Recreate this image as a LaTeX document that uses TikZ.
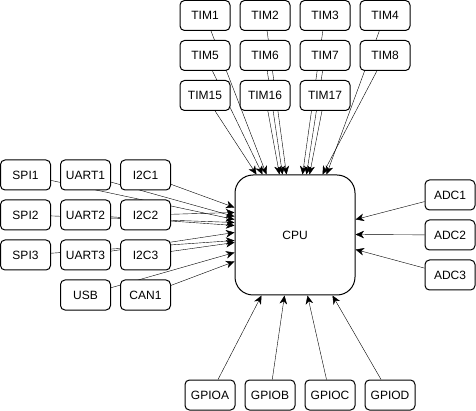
\documentclass[tikz,border=0pt]{standalone}
\usepackage{fontspec}
\setmainfont{Liberation Sans}
\usetikzlibrary{arrows.meta,backgrounds}

\begin{document}
\begin{tikzpicture}[x=1pt, y=-1pt, line width=1pt,
    blk/.style={shape=rectangle, draw, fill=white, rounded corners=4.5pt, minimum width=50pt, minimum height=30pt, inner sep=0pt, font=\fontsize{12}{14}\selectfont},
    lnk/.style={-{Stealth[length=8.5pt, width=7.5pt, inset=2.5pt]}}]
  \useasboundingbox (0,0) rectangle (476,411);

  % core
  \node[blk, minimum width=120pt, minimum height=120pt, rounded corners=18pt] (cpu) at (295,235){CPU};

  % timers
  \node[blk] (tim1) at (205,15.5){TIM1};
  \node[blk] (tim2) at (265,15.5){TIM2};
  \node[blk] (tim3) at (325,15.5){TIM3};
  \node[blk] (tim4) at (385,15.5){TIM4};
  \node[blk] (tim5) at (205,55.5){TIM5};
  \node[blk] (tim6) at (265,55.5){TIM6};
  \node[blk] (tim7) at (325,55.5){TIM7};
  \node[blk] (tim8) at (385,55.5){TIM8};
  \node[blk] (tim15) at (205,95.5){TIM15};
  \node[blk] (tim16) at (265,95.5){TIM16};
  \node[blk] (tim17) at (325,95.5){TIM17};

  % serial
  \node[blk] (spi1) at (25.5,175){SPI1};
  \node[blk] (uart1) at (85.5,175){UART1};
  \node[blk] (i2c1) at (145.5,175){I2C1};
  \node[blk] (spi2) at (25.5,215){SPI2};
  \node[blk] (uart2) at (85.5,215){UART2};
  \node[blk] (i2c2) at (145.5,215){I2C2};
  \node[blk] (spi3) at (25.5,255){SPI3};
  \node[blk] (uart3) at (85.5,255){UART3};
  \node[blk] (i2c3) at (145.5,255){I2C3};
  \node[blk] (usb) at (85.5,295){USB};
  \node[blk] (can1) at (145.5,295){CAN1};

  % analog
  \node[blk] (adc1) at (450,195){ADC1};
  \node[blk] (adc2) at (450,235){ADC2};
  \node[blk] (adc3) at (450,275){ADC3};

  % ports
  \node[blk] (gpioa) at (210,395){GPIOA};
  \node[blk] (gpiob) at (270,395){GPIOB};
  \node[blk] (gpioc) at (330,395){GPIOC};
  \node[blk] (gpiod) at (390,395){GPIOD};

  \begin{scope}[on background layer]
    % top
    \draw[lnk] (tim1) -- ([xshift=32pt]cpu.north west);
    \draw[lnk] (tim5) -- ([xshift=28pt]cpu.north west);
    \draw[lnk] (tim15) -- ([xshift=22pt]cpu.north west);
    \draw[lnk] (tim2) -- ([xshift=52pt]cpu.north west);
    \draw[lnk] (tim6) -- ([xshift=48pt]cpu.north west);
    \draw[lnk] (tim16) -- ([xshift=45pt]cpu.north west);
    \draw[lnk] (tim3) -- ([xshift=68pt]cpu.north west);
    \draw[lnk] (tim7) -- ([xshift=72pt]cpu.north west);
    \draw[lnk] (tim17) -- ([xshift=75pt]cpu.north west);
    \draw[lnk] (tim4) -- ([xshift=92pt]cpu.north west);
    \draw[lnk] (tim8) -- ([xshift=88pt]cpu.north west);

    % left
    \draw[lnk] (i2c1) -- ([yshift=-33pt]cpu.north west);
    \draw[lnk] (i2c2) -- ([yshift=-38pt]cpu.north west);
    \draw[lnk] (uart1) -- ([yshift=-42pt]cpu.north west);
    \draw[lnk] (spi1) -- ([yshift=-45pt]cpu.north west);
    \draw[lnk] (spi2) -- ([yshift=-48pt]cpu.north west);
    \draw[lnk] (uart2) -- ([yshift=-51pt]cpu.north west);
    \draw[lnk] (uart3) -- ([yshift=-58pt]cpu.north west);
    \draw[lnk] (spi3) -- ([yshift=-66pt]cpu.north west);
    \draw[lnk] (i2c3) -- ([yshift=-68pt]cpu.north west);
    \draw[lnk] (usb) -- ([yshift=-78pt]cpu.north west);
    \draw[lnk] (can1) -- ([yshift=-87pt]cpu.north west);

    % right
    \draw[lnk] (adc1) -- ([yshift=-45pt]cpu.north east);
    \draw[lnk] (adc2) -- ([yshift=-60pt]cpu.north east);
    \draw[lnk] (adc3) -- ([yshift=-75pt]cpu.north east);

    % bottom
    \draw[lnk] (gpioa) -- ([xshift=27pt]cpu.south west);
    \draw[lnk] (gpiob) -- ([xshift=50pt]cpu.south west);
    \draw[lnk] (gpioc) -- ([xshift=73pt]cpu.south west);
    \draw[lnk] (gpiod) -- ([xshift=98pt]cpu.south west);
  \end{scope}
\end{tikzpicture}
\end{document}
